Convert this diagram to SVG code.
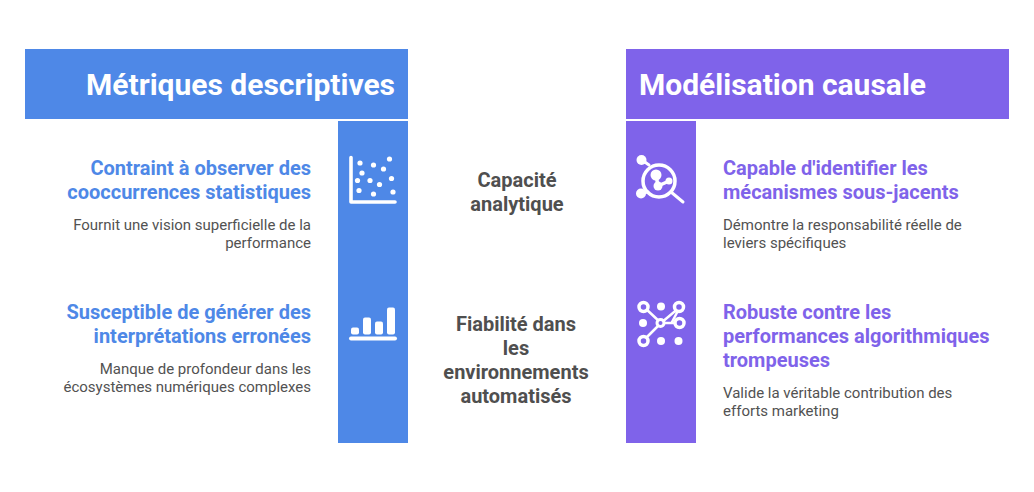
<svg xmlns="http://www.w3.org/2000/svg" width="1034" height="492" viewBox="0 0 1034 492">
<style>
text{font-family:Roboto,"Liberation Sans",sans-serif}
.h{font-size:30px;font-weight:700;fill:#fff}
.bl,.pl{font-size:20px;font-weight:700}
.bl{fill:#4e88e7}.pl{fill:#7f63ea}
.d{font-size:15px;fill:#525252}
.c{font-size:20px;font-weight:700;fill:#4f4f4f;text-anchor:middle}
.e{text-anchor:end}
.w{fill:#fff}
.l{fill:none;stroke:#fff;stroke-linecap:round;stroke-linejoin:round}
</style>
<rect width="1034" height="492" fill="#fff"/>
<g id="left-header"><rect x="25" y="49" width="383" height="70" fill="#4e88e7"/><text class="h e" x="395" y="95">Métriques descriptives</text></g>
<g id="right-header"><rect x="626" y="49" width="383" height="70" fill="#7f63ea"/><text class="h" x="639" y="95">Modélisation causale</text></g>
<g id="left-column"><rect x="338" y="121" width="70" height="322" fill="#4e88e7"/></g>
<g id="right-column"><rect x="626" y="121" width="70" height="322" fill="#7f63ea"/></g>
<g id="icon-scatter">
<path class="l" stroke-width="3.6" d="M351 157.500V202H395"/>
<g class="w"><circle cx="360" cy="163" r="2.600"/><circle cx="373.500" cy="165" r="2.600"/><circle cx="389.500" cy="159" r="2.600"/><circle cx="383.500" cy="169" r="2.600"/><circle cx="362" cy="173" r="2.600"/><circle cx="357.500" cy="180.500" r="2.600"/><circle cx="370" cy="180.500" r="2.600"/><circle cx="379.500" cy="184.500" r="2.600"/><circle cx="391.500" cy="178.500" r="2.600"/><circle cx="359" cy="190.500" r="2.600"/><circle cx="373.500" cy="194" r="2.600"/><circle cx="393" cy="192" r="2.600"/></g>
</g>
<g id="icon-bars" class="w">
<rect x="351" y="327.500" width="8" height="7" rx="2"/><rect x="363" y="317.500" width="8" height="17" rx="2"/><rect x="375" y="321.500" width="8" height="13" rx="2"/><rect x="387" y="307.500" width="8" height="27" rx="2"/><rect x="349" y="336.500" width="48" height="4" rx="2"/>
</g>
<g id="icon-search">
<circle cx="659" cy="181" r="16" fill="none" stroke="#fff" stroke-width="3.500"/>
<path class="l" stroke-width="3" d="M671 192L683 202"/>
<path class="l" stroke-width="3" d="M642 160L649 165M641 193L648 192"/>
<circle class="w" cx="641.500" cy="160" r="5"/><circle class="w" cx="641" cy="193.500" r="5"/>
<circle class="w" cx="656" cy="175" r="5.500"/><circle class="w" cx="658" cy="186" r="4.500"/><circle class="w" cx="669" cy="181" r="3.500"/>
<path class="l" stroke-width="3.500" d="M656 175L658 186L669 181"/>
</g>
<g id="icon-network">
<path class="l" stroke-width="2.500" d="M645 308L661 323L680 307M661 323L644 340M661 323H679M680 307L672 322"/>
<g fill="#7f63ea" stroke="#fff" stroke-width="3.500"><circle cx="643.500" cy="307" r="4.500"/><circle cx="679" cy="307" r="4.500"/><circle cx="679.500" cy="323" r="4.500"/><circle cx="643.500" cy="341" r="4.500"/></g>
<circle cx="660.500" cy="323" r="3.500" fill="#7f63ea" stroke="#fff" stroke-width="3"/>
<g class="w"><circle cx="661" cy="306.500" r="4"/><circle cx="643" cy="323" r="4"/><circle cx="661" cy="341" r="4"/><circle cx="678.500" cy="341" r="4"/></g>
</g>
<g id="left-item-1"><text class="bl e" x="311" y="175">Contraint à observer des</text><text class="bl e" x="311" y="199">cooccurrences statistiques</text><text class="d e" x="311" y="230">Fournit une vision superficielle de la</text><text class="d e" x="311" y="248">performance</text></g>
<g id="left-item-2"><text class="bl e" x="311" y="319">Susceptible de générer des</text><text class="bl e" x="311" y="343">interprétations erronées</text><text class="d e" x="311" y="374">Manque de profondeur dans les</text><text class="d e" x="311" y="392">écosystèmes numériques complexes</text></g>
<g id="center-1"><text class="c" x="517" y="187">Capacité</text><text class="c" x="517" y="211">analytique</text></g>
<g id="center-2"><text class="c" x="516" y="331">Fiabilité dans</text><text class="c" x="516" y="355">les</text><text class="c" x="516" y="379">environnements</text><text class="c" x="516" y="403">automatisés</text></g>
<g id="right-item-1"><text class="pl" x="723" y="175">Capable d'identifier les</text><text class="pl" x="723" y="199">mécanismes sous-jacents</text><text class="d" x="723" y="230">Démontre la responsabilité réelle de</text><text class="d" x="723" y="248">leviers spécifiques</text></g>
<g id="right-item-2"><text class="pl" x="723" y="319">Robuste contre les</text><text class="pl" x="723" y="343">performances algorithmiques</text><text class="pl" x="723" y="367">trompeuses</text><text class="d" x="723" y="398">Valide la véritable contribution des</text><text class="d" x="723" y="416">efforts marketing</text></g>
<g id="connectors"/>
</svg>
